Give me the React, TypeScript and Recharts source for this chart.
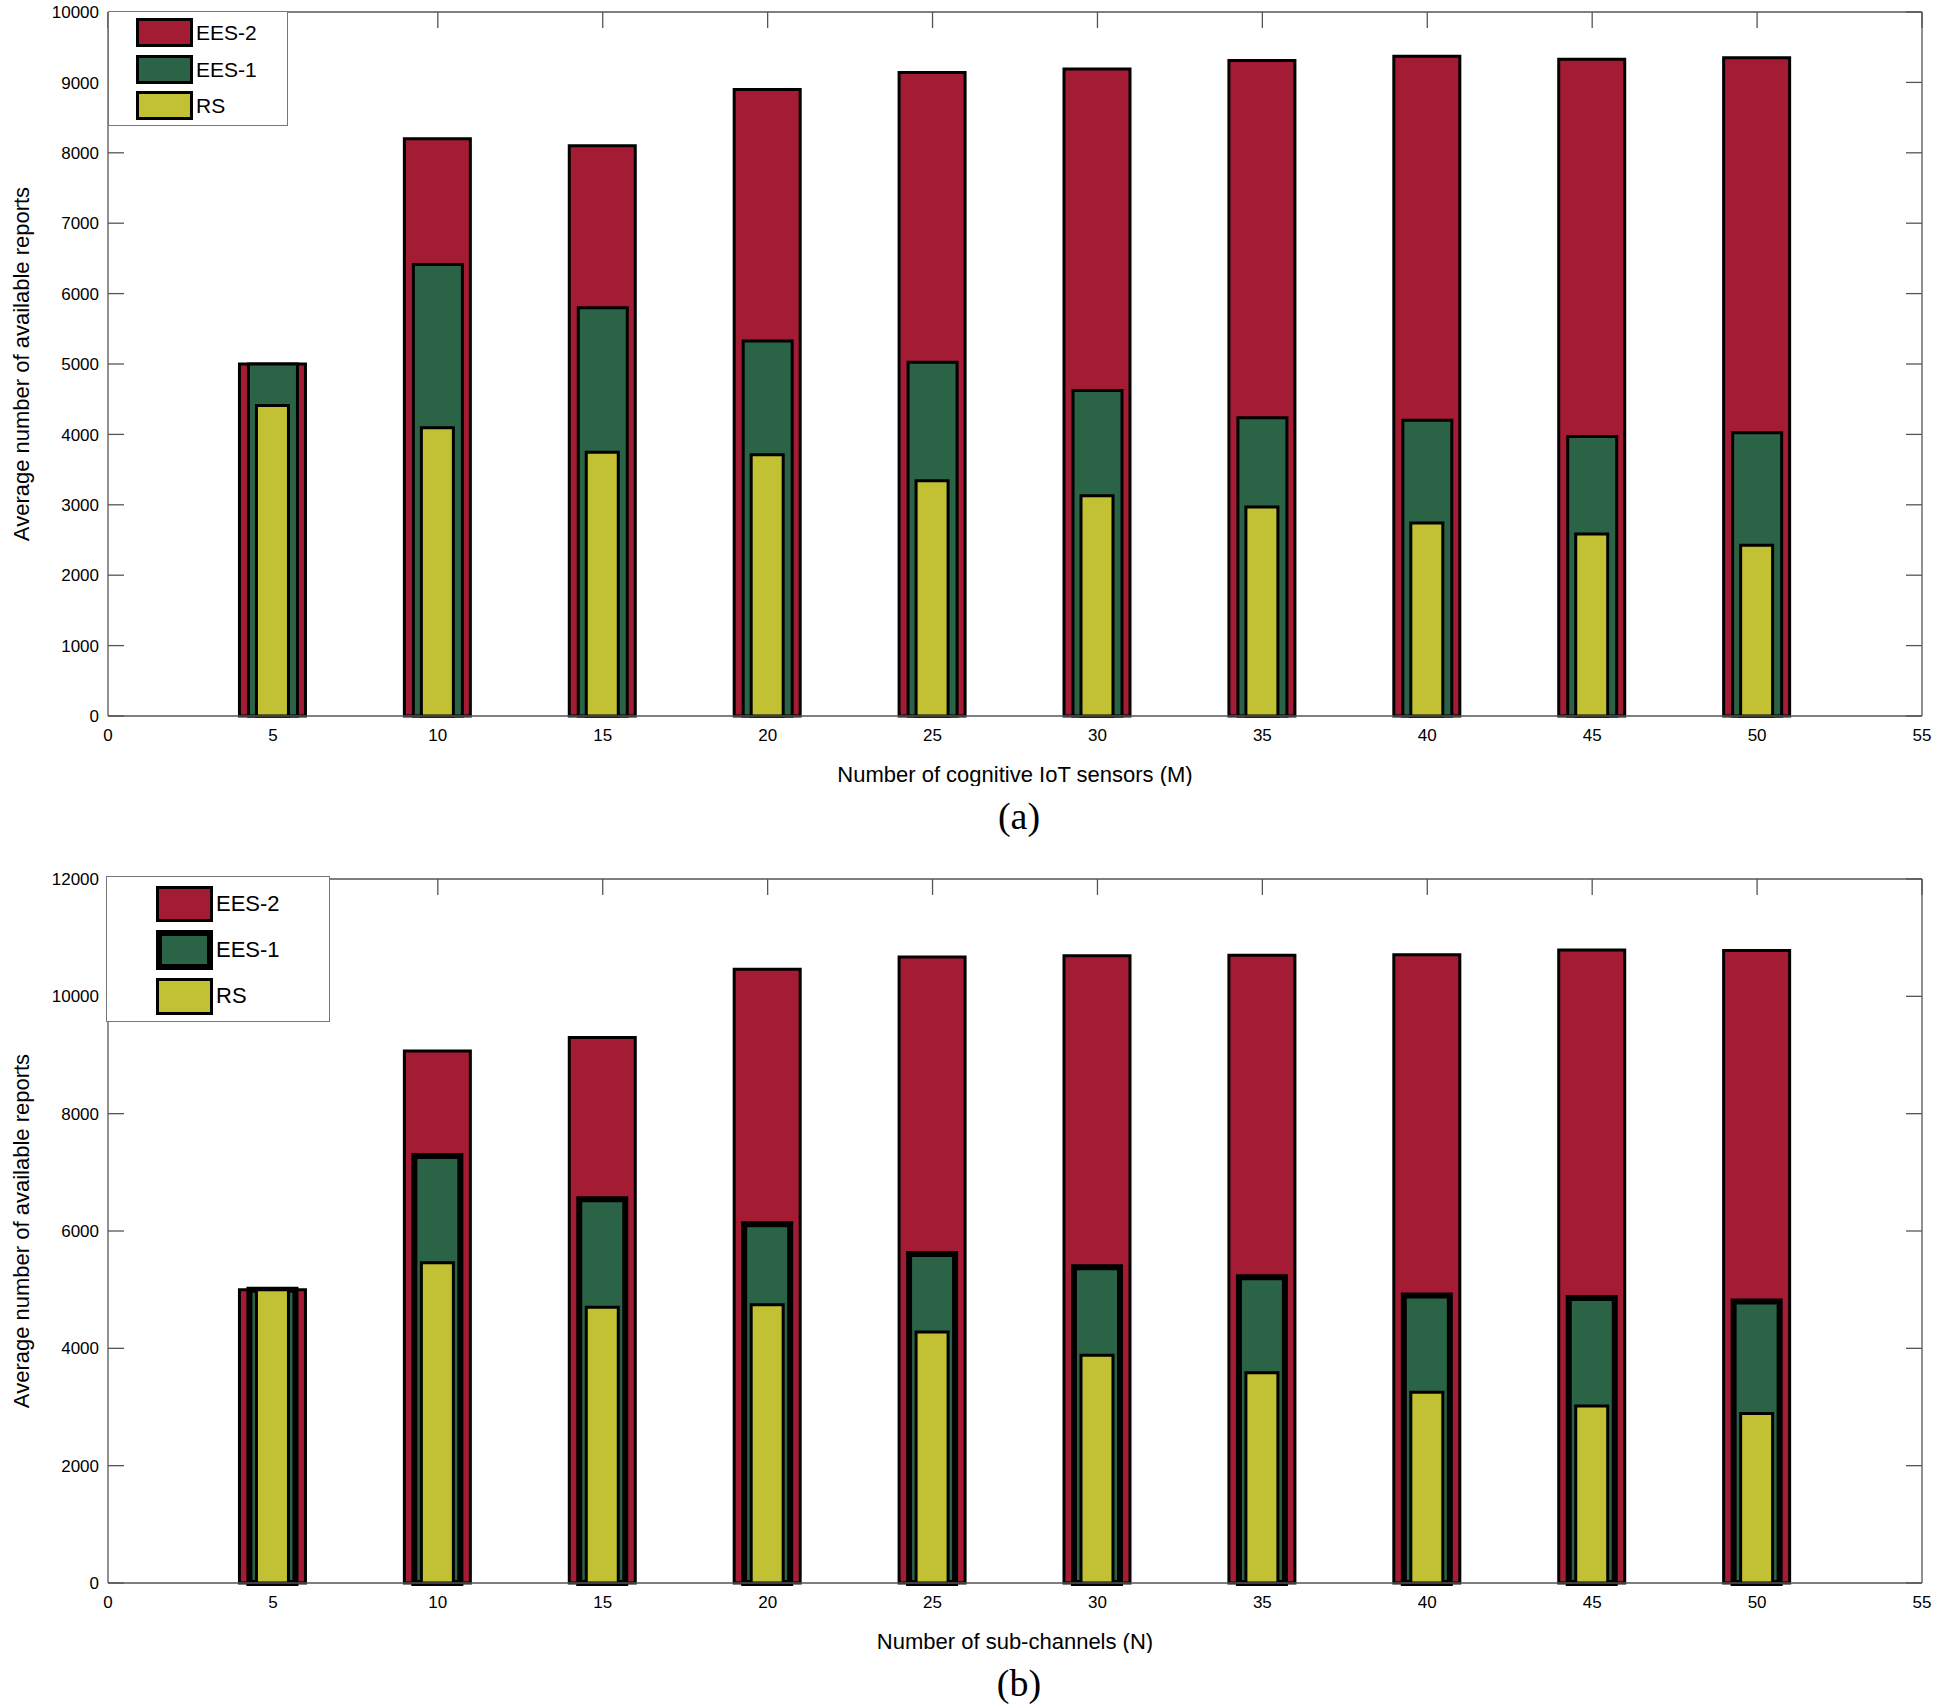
import { BarChart, Bar, XAxis, YAxis, Legend } from "recharts";

// x positions (M for panel a, N for panel b)
const xValues = [5, 10, 15, 20, 25, 30, 35, 40, 45, 50];
const xTicks = [0, 5, 10, 15, 20, 25, 30, 35, 40, 45, 50, 55];

// panel (a): number of cognitive IoT sensors
const ees2A = [5000, 8200, 8100, 8900, 9140, 9190, 9310, 9370, 9330, 9350];
const ees1A = [5000, 6415, 5800, 5325, 5025, 4625, 4235, 4200, 3970, 4025];
const rsA = [4410, 4095, 3745, 3710, 3340, 3130, 2970, 2740, 2585, 2425];
const yTicksA = [0, 1000, 2000, 3000, 4000, 5000, 6000, 7000, 8000, 9000, 10000];

// panel (b): number of sub-channels
const ees2B = [5000, 9070, 9300, 10460, 10670, 10690, 10700, 10710, 10790, 10780];
const ees1B = [5000, 7280, 6540, 6115, 5610, 5380, 5210, 4900, 4860, 4800];
const rsB = [5000, 5460, 4700, 4745, 4280, 3880, 3585, 3250, 3015, 2890];
const yTicksB = [0, 2000, 4000, 6000, 8000, 10000, 12000];

const RED = "#A31C33";
const GREEN = "#2B6347";
const YELLOW = "#C2C133";
const AXIS = "#555";
const FONT = "'Liberation Sans', Arial, sans-serif";
const TICK_LEN = 16;

const W = 1938;
const H = 786;

const toRows = (a: number[], b: number[], c: number[]) =>
  xValues.map((x, i) => ({ x, ees2: a[i], ees1: b[i], rs: c[i] }));

const LeftTick = (props: any) => {
  const { x, y, payload } = props;
  const axisX = x + 9;
  return (
    <g>
      <line x1={axisX} x2={axisX + TICK_LEN} y1={y} y2={y} stroke={AXIS} strokeWidth={1.3} />
      <text x={x} y={y} dy="0.36em" textAnchor="end" fontSize={17} fontFamily={FONT} fill="#000">
        {payload.value}
      </text>
    </g>
  );
};

// bottom ticks sit under the bars or on the box edges, so only the labels are drawn
const BottomTick = (props: any) => {
  const { x, y, payload } = props;
  return (
    <text x={x} y={y} dy="0.71em" textAnchor="middle" fontSize={17} fontFamily={FONT} fill="#000">
      {payload.value}
    </text>
  );
};

const TopTick = (props: any) => {
  const { x, y } = props;
  return <line x1={x} x2={x} y1={y} y2={y + TICK_LEN} stroke={AXIS} strokeWidth={1.3} />;
};

const RightTick = (props: any) => {
  const { x, y } = props;
  return <line x1={x} x2={x - TICK_LEN} y1={y} y2={y} stroke={AXIS} strokeWidth={1.3} />;
};

type LegendBox = {
  left: number;
  top: number;
  width: number;
  height: number;
  swatchLeft: number;
  rows: { label: string; color: string; top: number; h: number; border: number }[];
  fontSize: number;
};

const makeLegend = (box: LegendBox) => () =>
  (
    <div
      style={{
        position: "relative",
        width: box.width,
        height: box.height,
        boxSizing: "border-box",
        border: "1.5px solid #777",
        background: "#fff",
        fontFamily: FONT,
      }}
    >
      {box.rows.map((r) => (
        <div key={r.label}>
          <div
            style={{
              position: "absolute",
              left: box.swatchLeft,
              top: r.top,
              width: 57,
              height: r.h,
              boxSizing: "border-box",
              background: r.color,
              border: `${r.border}px solid #000`,
            }}
          />
          <div
            style={{
              position: "absolute",
              left: box.swatchLeft + 60,
              top: r.top + r.h / 2 - box.fontSize * 0.6,
              fontSize: box.fontSize,
              lineHeight: 1.2,
              color: "#000",
            }}
          >
            {r.label}
          </div>
        </div>
      ))}
    </div>
  );

type PanelProps = {
  top: number;
  rows: ReturnType<typeof toRows>;
  yMax: number;
  yTicks: number[];
  xLabel: string;
  caption: string;
  legend: LegendBox;
  ees1Stroke: number;
  ees1Size: number;
};

function Panel({ top, rows, yMax, yTicks, xLabel, caption, legend, ees1Stroke, ees1Size }: PanelProps) {
  return (
    <div style={{ position: "absolute", left: 0, top, width: W, height: H + 60 }}>
      <BarChart width={W} height={H} data={rows} margin={{ top: 11, right: 15, bottom: 0, left: 0 }}>
        <XAxis
          xAxisId="a"
          dataKey="x"
          type="number"
          domain={[0, 55]}
          ticks={xTicks}
          interval={0}
          height={70}
          tickSize={0}
          tickMargin={13}
          tickLine={false}
          tick={<BottomTick />}
          axisLine={{ stroke: AXIS, strokeWidth: 1.3 }}
          label={{ value: xLabel, position: "insideBottom", offset: 4, fontSize: 22, fontFamily: FONT, fill: "#000" }}
        />
        <XAxis xAxisId="b" dataKey="x" type="number" domain={[0, 55]} ticks={xTicks} hide />
        <XAxis
          xAxisId="top"
          orientation="top"
          dataKey="x"
          type="number"
          domain={[0, 55]}
          ticks={xTicks}
          interval={0}
          height={1}
          tickSize={0}
          tickMargin={0}
          tickLine={false}
          tick={<TopTick />}
          axisLine={{ stroke: AXIS, strokeWidth: 1.3 }}
        />
        <YAxis
          type="number"
          domain={[0, yMax]}
          ticks={yTicks}
          interval={0}
          width={108}
          tickSize={0}
          tickMargin={9}
          tickLine={false}
          tick={<LeftTick />}
          axisLine={{ stroke: AXIS, strokeWidth: 1.3 }}
          label={{
            value: "Average number of available reports",
            angle: -90,
            position: "insideLeft",
            offset: 21,
            fontSize: 22,
            fontFamily: FONT,
            fill: "#000",
            style: { textAnchor: "middle" },
          }}
        />
        <YAxis
          yAxisId="right"
          orientation="right"
          type="number"
          domain={[0, yMax]}
          ticks={yTicks}
          interval={0}
          width={1}
          tickSize={0}
          tickMargin={0}
          tickLine={false}
          tick={<RightTick />}
          axisLine={{ stroke: AXIS, strokeWidth: 1.3 }}
        />
        <Legend
          layout="vertical"
          align="center"
          verticalAlign="middle"
          content={makeLegend(legend)}
          wrapperStyle={{ left: legend.left, top: legend.top, width: legend.width, height: legend.height }}
        />
        <Bar xAxisId="a" dataKey="ees2" name="EES-2" fill={RED} stroke="#000" strokeWidth={3} barSize={66} isAnimationActive={false} />
        <Bar xAxisId="b" dataKey="ees1" name="EES-1" fill={GREEN} stroke="#000" strokeWidth={ees1Stroke} barSize={ees1Size} isAnimationActive={false} />
        <Bar xAxisId="top" yAxisId="right" dataKey="rs" name="RS" fill={YELLOW} stroke="#000" strokeWidth={3} barSize={32} isAnimationActive={false} />
      </BarChart>
      <div
        style={{
          position: "absolute",
          left: 919,
          top: H + 11,
          width: 200,
          textAlign: "center",
          fontFamily: "'Liberation Serif', 'Times New Roman', serif",
          fontSize: 38,
          lineHeight: 1,
          color: "#000",
        }}
      >
        {caption}
      </div>
    </div>
  );
}

export default function App() {
  return (
    <div style={{ position: "absolute", left: 0, top: 0, width: W, height: 1708, background: "#fff" }}>
      <Panel
        top={0}
        rows={toRows(ees2A, ees1A, rsA)}
        yMax={10000}
        yTicks={yTicksA}
        xLabel="Number of cognitive IoT sensors (M)"
        caption="(a)"
        ees1Stroke={3}
        ees1Size={49}
        legend={{
          left: 108,
          top: 11,
          width: 180,
          height: 115,
          swatchLeft: 27,
          fontSize: 21,
          rows: [
            { label: "EES-2", color: RED, top: 6, h: 29, border: 3 },
            { label: "EES-1", color: GREEN, top: 43, h: 29, border: 3 },
            { label: "RS", color: YELLOW, top: 79, h: 29, border: 3 },
          ],
        }}
      />
      <Panel
        top={867}
        rows={toRows(ees2B, ees1B, rsB)}
        yMax={12000}
        yTicks={yTicksB}
        xLabel="Number of sub-channels (N)"
        caption="(b)"
        ees1Stroke={6}
        ees1Size={46}
        legend={{
          left: 106,
          top: 9,
          width: 224,
          height: 146,
          swatchLeft: 49,
          fontSize: 22,
          rows: [
            { label: "EES-2", color: RED, top: 9, h: 36, border: 3 },
            { label: "EES-1", color: GREEN, top: 53, h: 40, border: 6 },
            { label: "RS", color: YELLOW, top: 101, h: 37, border: 3 },
          ],
        }}
      />
    </div>
  );
}
